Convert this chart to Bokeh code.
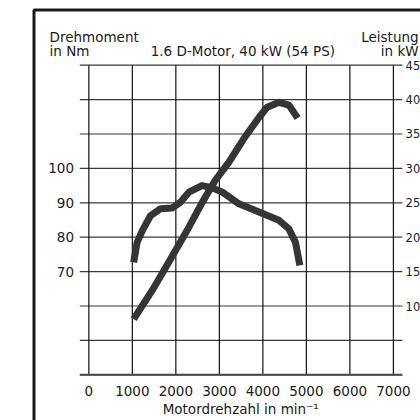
from bokeh.plotting import figure
from bokeh.models import Range1d
from bokeh.core.properties import value
from bokeh.embed import file_html
from bokeh.resources import INLINE

# ---- data ----
rpm_ticks = [0, 1000, 2000, 3000, 4000, 5000, 6000, 7000]
torque_ticks = [70, 80, 90, 100]
kw_grid = [0, 5, 10, 15, 20, 25, 30, 35, 40, 45]
kw_labels = [10, 15, 20, 25, 30, 35, 40, 45]

torque_rpm = [1030, 1110, 1230, 1420, 1650, 1920, 2110, 2300, 2600, 2800,
              3070, 3450, 3910, 4370, 4600, 4750, 4850]
torque_nm = [72.7, 78.5, 81.9, 86.3, 88.3, 88.5, 90.2, 93.1, 95.0, 94.5,
             93.1, 89.7, 87.3, 84.9, 82.4, 78.5, 71.8]

power_rpm = [1030, 1460, 1840, 2260, 2610, 2910, 3220, 3560, 3910, 4100,
             4370, 4600, 4800]
power_kw = [8.1, 12.3, 16.4, 21.0, 25.1, 28.3, 30.9, 34.3, 37.4, 38.9,
            39.6, 39.2, 37.3]

title_text = "1.6 D-Motor, 40 kW (54 PS)"
left_title = ["Drehmoment", "in Nm"]
right_title = ["Leistung", "in kW"]
x_label = "Motordrehzahl in min\u207b\u00b9"

FONT = value("DejaVu Sans")
FS = "13.5px"
TXT = "#1a1a1a"

# scales: the frame covers the whole canvas
X_START, X_END = -2030, 7623          # rpm
KW_START, KW_END = -6.64, 54.40       # kW (right scale)
GRID_X0, GRID_X1 = -207, 7205         # extent of horizontal rules

p = figure(width=420, height=420, output_backend="svg", toolbar_location=None,
           x_range=Range1d(X_START, X_END), y_range=Range1d(KW_START, KW_END),
           x_axis_location=None, y_axis_location=None, min_border=0)
p.outline_line_color = None
p.grid.visible = False
p.background_fill_color = "white"
p.border_fill_color = "white"
# torque scale: 0 kW <-> 40 Nm, 45 kW <-> 130 Nm
p.extra_y_ranges = {"torque": Range1d(40 + 2 * KW_START, 40 + 2 * KW_END)}

# grid
p.segment(x0=[GRID_X0] * len(kw_grid), x1=[GRID_X1] * len(kw_grid),
          y0=kw_grid, y1=kw_grid, line_color="#3a3a3a", line_width=1.2)
p.segment(x0=rpm_ticks, x1=rpm_ticks, y0=[0] * len(rpm_ticks),
          y1=[45] * len(rpm_ticks), line_color="#111111", line_width=1.2)
# x axis line
p.segment(x0=[GRID_X0], x1=[GRID_X1], y0=[0], y1=[0],
          line_color="#4a4a4a", line_width=2)

# tick labels
p.text(x=rpm_ticks, y=[-2.38] * len(rpm_ticks), text=[str(v) for v in rpm_ticks],
       text_align="center", text_baseline="alphabetic", text_font=FONT,
       text_font_size=FS, text_color=TXT)
p.text(x=[-340] * len(torque_ticks), y=torque_ticks, y_range_name="torque",
       text=[str(v) for v in torque_ticks], text_align="right",
       text_baseline="middle", text_font=FONT, text_font_size=FS, text_color=TXT)
p.text(x=[7280] * len(kw_labels), y=kw_labels, text=[str(v) for v in kw_labels],
       text_align="left", text_baseline="middle", text_font=FONT,
       text_font_size="11.5px", text_color=TXT)
p.text(x=[3490], y=[-4.90], text=[x_label], text_align="center",
       text_baseline="alphabetic", text_font=FONT, text_font_size=FS,
       text_color=TXT)

# curves
p.line(torque_rpm, torque_nm, y_range_name="torque", line_width=7,
       line_color="#353535", line_cap="butt", line_join="round")
p.line(power_rpm, power_kw, line_width=7,
       line_color="#353535", line_cap="butt", line_join="round")

# header texts
p.text(x=[-903, -903], y=[49.03, 46.99], text=left_title, text_align="left",
       text_baseline="alphabetic", text_font=FONT, text_font_size=FS,
       text_color=TXT)
p.text(x=[3540], y=[46.99], text=[title_text], text_align="center",
       text_baseline="alphabetic", text_font=FONT, text_font_size=FS,
       text_color=TXT)
p.text(x=[7579, 7579], y=[49.03, 46.99], text=right_title, text_align="right",
       text_baseline="alphabetic", text_font=FONT, text_font_size=FS,
       text_color=TXT)

# outer frame (runs off the right and bottom edge as in the reference)
p.quad(left=[-1260], right=[9000], top=[53.02], bottom=[-12],
       fill_color=None, line_color="#1a1a1a", line_width=3)

open("out.html", "w").write(file_html(p, INLINE))
